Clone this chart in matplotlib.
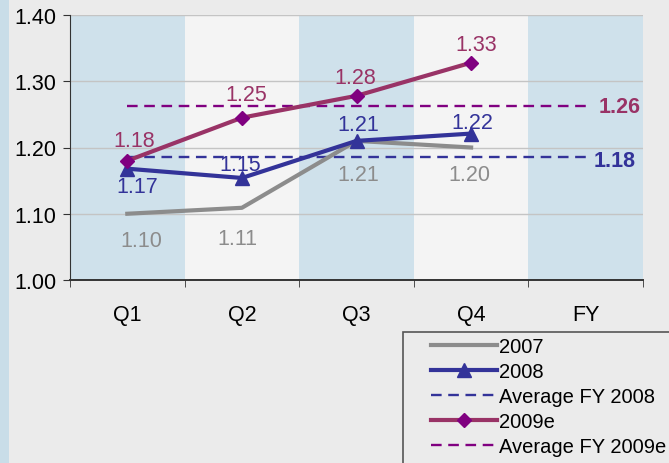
import matplotlib.pyplot as plt
from matplotlib.patches import Rectangle

# chart data
quarters = ['Q1', 'Q2', 'Q3', 'Q4', 'FY']
y2007 = [1.10, 1.109, 1.21, 1.20]
y2008 = [1.168, 1.154, 1.21, 1.221]
y2009e = [1.18, 1.245, 1.278, 1.328]
avg_2008 = 1.185
avg_2009e = 1.262
labels_2007 = ['1.10', '1.11', '1.21', '1.20']
labels_2008 = ['1.17', '1.15', '1.21', '1.22']
labels_2009e = ['1.18', '1.25', '1.28', '1.33']

c_2007 = '#8c8c8c'
c_2008 = '#333399'
c_2009 = '#993366'
c_purple = '#800080'

plt.rcParams['font.family'] = ['Liberation Sans', 'DejaVu Sans']

fig = plt.figure(figsize=(6.69, 4.64), dpi=100)
fig.patch.set_facecolor('#ebebeb')
# blue strip on the far left
fig.patches.append(Rectangle((0, 0), 9 / 669, 1, transform=fig.transFigure,
                             facecolor='#c9dde8', edgecolor='none', zorder=0))

ax = fig.add_axes([70 / 669, 1 - 281 / 464, 573 / 669, 265 / 464])
ax.set_facecolor('#f4f4f4')

# alternating column bands
for i in range(len(quarters)):
    if i % 2 == 0:
        ax.axvspan(i - 0.5, i + 0.5, facecolor='#cfe1eb', edgecolor='none', zorder=0)

fs = 15.5
ax.set_xlim(-0.5, len(quarters) - 0.5)
ax.set_ylim(1.0, 1.4)
ax.set_yticks([1.0, 1.1, 1.2, 1.3, 1.4])
ax.set_yticklabels(['%.2f' % v for v in [1.0, 1.1, 1.2, 1.3, 1.4]])
ax.set_xticks(range(len(quarters)))
ax.set_xticklabels(quarters)
ax.set_xticks([i - 0.5 for i in range(len(quarters) + 1)], minor=True)
ax.tick_params(axis='x', which='major', length=0, pad=17, labelsize=fs)
ax.tick_params(axis='x', which='minor', length=5, direction='out', color='#333333')
ax.tick_params(axis='y', length=5, direction='out', labelsize=fs, pad=5, color='#333333')
ax.grid(axis='y', color='#c4c4c4', linewidth=1, zorder=1)
ax.set_axisbelow(True)
for side in ['top', 'right']:
    ax.spines[side].set_visible(False)
ax.spines['left'].set_color('#333333')
ax.spines['bottom'].set_color('#333333')
ax.spines['bottom'].set_linewidth(1.4)

xq = range(len(y2007))
xall = range(len(quarters))

ax.plot(xq, y2007, color=c_2007, lw=3, zorder=3, label='2007')
ax.plot(xq, y2008, color=c_2008, lw=3, marker='^', markersize=10, zorder=4, label='2008')
ax.plot(xall, [avg_2008] * len(quarters), color=c_2008, lw=1.7, ls=(0, (4.5, 2.8)),
        zorder=2, label='Average FY 2008')
ax.plot(xq, y2009e, color=c_2009, lw=3, marker='D', markersize=7.5, mfc=c_purple,
        mec=c_purple, zorder=5, label='2009e')
ax.plot(xall, [avg_2009e] * len(quarters), color=c_purple, lw=1.7, ls=(0, (4.5, 2.8)),
        zorder=2, label='Average FY 2009e')

# label offsets in points
offs_2007 = [(10, -19), (-3, -22), (1.5, -24.5), (-1, -19.5)]
offs_2008 = [(7, -13), (-1, 10), (1, 12), (1, 8)]
offs_2009 = [(5, 14.5), (3, 16.5), (-1, 13.5), (3.5, 13)]
for vals, labs, offs, col in [(y2007, labels_2007, offs_2007, c_2007),
                              (y2008, labels_2008, offs_2008, c_2008),
                              (y2009e, labels_2009e, offs_2009, c_2009)]:
    for i, (v, s) in enumerate(zip(vals, labs)):
        ax.annotate(s, (i, v), xytext=offs[i], textcoords='offset points',
                    ha='center', va='center', color=col, fontsize=fs)

ax.annotate('%.2f' % 1.26, (4, avg_2009e), xytext=(9, 0), textcoords='offset points',
            ha='left', va='center', color=c_2009, fontsize=fs, fontweight='bold')
ax.annotate('%.2f' % 1.18, (4, avg_2008), xytext=(6, -2), textcoords='offset points',
            ha='left', va='center', color=c_2008, fontsize=fs, fontweight='bold')

# legend box, running off the figure edge
box_top = 1 - 333 / 464
fig.patches.append(Rectangle((403 / 669, -0.1), 0.5, box_top + 0.1,
                             transform=fig.transFigure, facecolor='#ebebeb',
                             edgecolor='#555555', linewidth=1.2, zorder=2))
leg = fig.legend(loc='upper left', bbox_to_anchor=(431 / 669, 1 - 338 / 464),
                 borderaxespad=0, borderpad=0, fontsize=14.5, handlelength=3.3,
                 handletextpad=0.1, labelspacing=0.3, frameon=False)
leg.set_zorder(3)

plt.savefig('out.png', dpi=100, facecolor=fig.get_facecolor())
